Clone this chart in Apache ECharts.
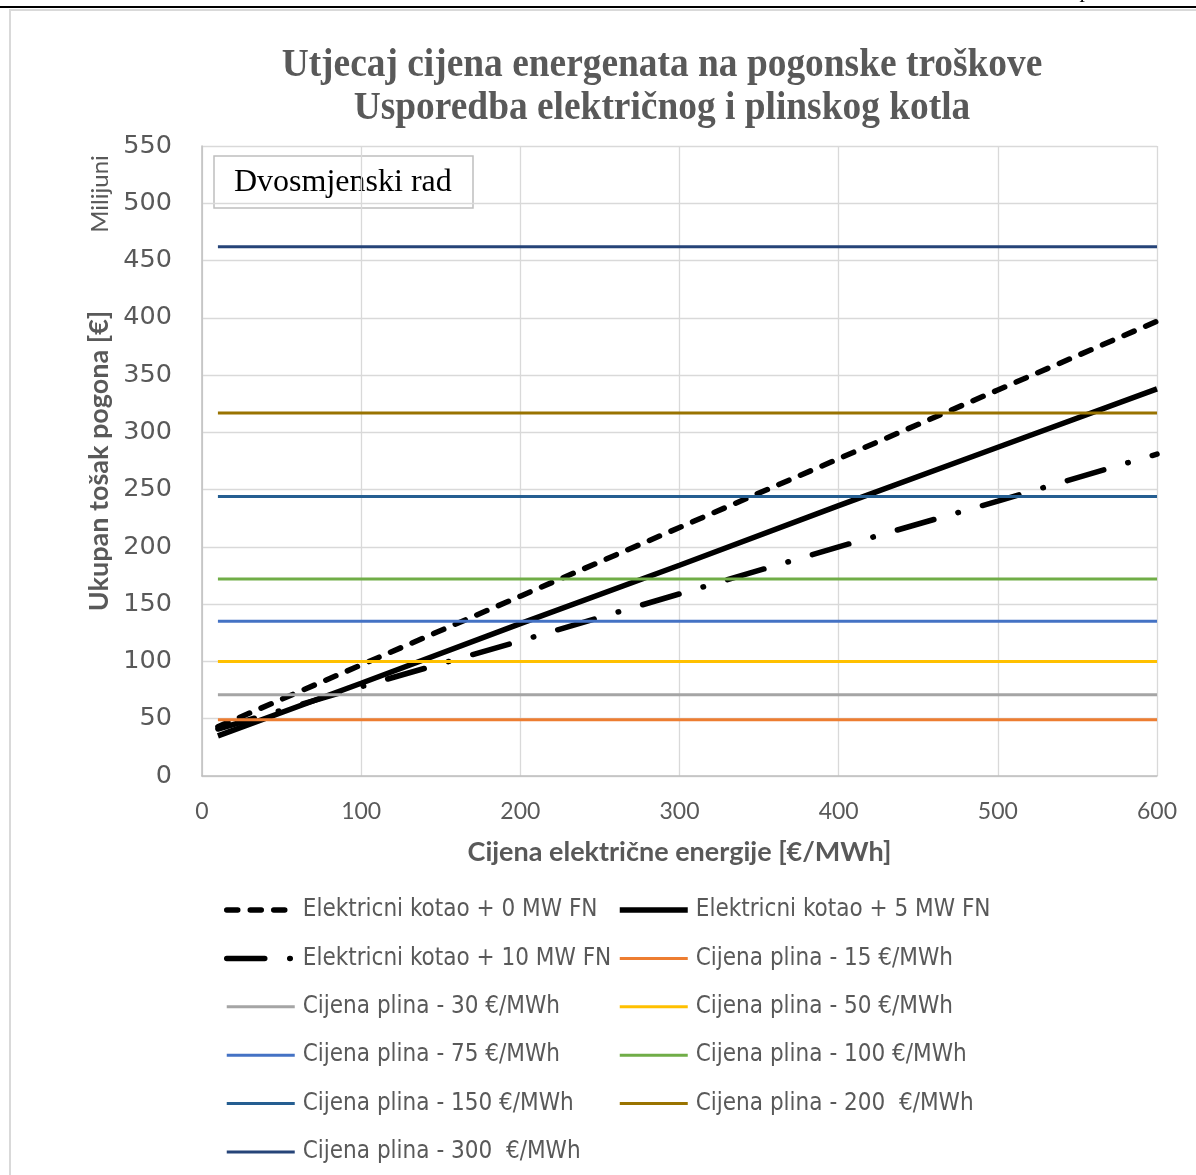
<!DOCTYPE html>
<html>
<head>
<meta charset="utf-8">
<script src="https://cdn.jsdelivr.net/npm/echarts@6/dist/echarts.min.js"></script>
<style>
  html, body { margin: 0; padding: 0; background: #fff; }
  #chart { width: 1196px; height: 1175px; }
</style>
</head>
<body>
<div id="chart"></div>
<script>
// Electricity price points (€/MWh) at which the boiler costs are given
const elecPrice = [10, 100, 200, 300, 400, 500, 600];

// Total operating cost of the electric boiler (millions €)
const boiler0MW  = [43, 97, 157, 217, 277, 337, 397];
const boiler5MW  = [35, 81, 133, 184, 236, 287, 338];
const boiler10MW = [41, 78, 118, 159, 200, 240, 281];

const boilerNames = [
  'Elektricni kotao + 0 MW FN',
  'Elektricni kotao + 5 MW FN',
  'Elektricni kotao + 10 MW FN'
];

// Gas boiler: total cost per gas price (independent of electricity price)
const gasNames = [
  'Cijena plina - 15 €/MWh',
  'Cijena plina - 30 €/MWh',
  'Cijena plina - 50 €/MWh',
  'Cijena plina - 75 €/MWh',
  'Cijena plina - 100 €/MWh',
  'Cijena plina - 150 €/MWh',
  'Cijena plina - 200  €/MWh',
  'Cijena plina - 300  €/MWh'
];
const gasCost = [49, 71, 100, 135, 172, 244, 317, 462];
const gasColors = ['#ED7D31', '#A5A5A5', '#FFC000', '#4472C4', '#70AD47', '#255E91', '#997300', '#264478'];

const titleLines = ['Utjecaj cijena energenata na pogonske troškove', 'Usporedba električnog i plinskog kotla'];

const GREY_TEXT = '#595959';
const LEGEND_FONT = '"DejaVu Sans Condensed", Lato, sans-serif';

function boilerSeries(name, values, dash, cap) {
  return {
    name: name,
    type: 'line',
    data: elecPrice.map((x, i) => [x, values[i]]),
    symbol: 'none',
    lineStyle: { color: '#000', width: 5.5, type: dash, cap: cap },
    itemStyle: { color: '#000' },
    z: 2
  };
}

const series = [
  boilerSeries(boilerNames[0], boiler0MW, [11, 12.5], 'round'),
  boilerSeries(boilerNames[1], boiler5MW, 'solid', 'butt'),
  boilerSeries(boilerNames[2], boiler10MW, [38, 25, 0.5, 25], 'round')
];
gasNames.forEach((name, i) => {
  series.push({
    name: name,
    type: 'line',
    data: [[elecPrice[0], gasCost[i]], [elecPrice[elecPrice.length - 1], gasCost[i]]],
    symbol: 'none',
    lineStyle: { color: gasColors[i], width: 3 },
    itemStyle: { color: gasColors[i] },
    z: 3
  });
});

const legendText = {
  color: GREY_TEXT,
  fontFamily: LEGEND_FONT,
  fontSize: 24,
  lineHeight: 28,
  padding: [0, 0, 0, 3]
};

function legendColumn(left, names) {
  return {
    orient: 'vertical', left: left, top: 896, padding: 0,
    itemWidth: 68, itemHeight: 14, itemGap: 20.4,
    data: names,
    itemStyle: { opacity: 0 },
    lineStyle: { width: 'inherit' },
    textStyle: legendText
  };
}

const chart = echarts.init(document.getElementById('chart'));
chart.setOption({
  animation: false,
  backgroundColor: '#fff',
  grid: { left: 202, right: 39, top: 146, bottom: 399, containLabel: false },
  xAxis: {
    type: 'value',
    min: 0, max: 600, interval: 100,
    name: 'Cijena električne energije [€/MWh]',
    nameLocation: 'middle',
    nameGap: 63,
    nameTextStyle: { color: GREY_TEXT, fontFamily: 'Lato', fontWeight: 'bold', fontSize: 27 },
    axisLine: { show: true, lineStyle: { color: '#BFBFBF', width: 1.5 } },
    axisTick: { show: false },
    axisLabel: { color: GREY_TEXT, fontFamily: 'Lato', fontSize: 23, margin: 24 },
    splitLine: { show: true, lineStyle: { color: '#D9D9D9', width: 1.3 } }
  },
  yAxis: {
    type: 'value',
    min: 0, max: 550, interval: 50,
    name: 'Ukupan tošak pogona [€]',
    nameLocation: 'middle',
    nameGap: 87,
    nameRotate: 90,
    nameTextStyle: { color: GREY_TEXT, fontFamily: 'Lato', fontWeight: 'bold', fontSize: 27 },
    axisLine: { show: true, lineStyle: { color: '#BFBFBF', width: 1.5 } },
    axisTick: { show: false },
    axisLabel: { color: GREY_TEXT, fontFamily: '"DejaVu Sans"', fontSize: 25.5, margin: 30 },
    splitLine: { show: true, lineStyle: { color: '#D9D9D9', width: 1.3 } }
  },
  legend: [
    legendColumn(224, [boilerNames[0], boilerNames[2], gasNames[1], gasNames[3], gasNames[5], gasNames[7]]),
    legendColumn(617, [boilerNames[1], gasNames[0], gasNames[2], gasNames[4], gasNames[6]])
  ],
  graphic: [
    { type: 'line', silent: true, z: 10,
      shape: { x1: 0, y1: 7, x2: 1196, y2: 7 },
      style: { stroke: '#000', lineWidth: 2 } },
    { type: 'rect', silent: true, z: 0,
      shape: { x: 10, y: 10, width: 1300, height: 1300 },
      style: { fill: null, stroke: '#D9D9D9', lineWidth: 2 } },
    { type: 'text', silent: true, left: 1081, top: -20,
      style: { text: 'p', font: 'italic 22px "Liberation Serif"', fill: '#000' } },
    { type: 'text', silent: true, x: 662, y: 66, scaleX: 0.935,
      style: { text: titleLines[0], font: 'bold 40px "Liberation Serif"', fill: GREY_TEXT,
               align: 'center', verticalAlign: 'middle' } },
    { type: 'text', silent: true, x: 662, y: 109, scaleX: 0.935,
      style: { text: titleLines[1], font: 'bold 40px "Liberation Serif"', fill: GREY_TEXT,
               align: 'center', verticalAlign: 'middle' } },
    { type: 'text', silent: true, x: 100, y: 194, rotation: Math.PI / 2,
      style: { text: 'Milijuni', font: '24px Lato', fill: GREY_TEXT,
               align: 'center', verticalAlign: 'middle' } },
    { type: 'group', z: 20, children: [
      { type: 'rect', shape: { x: 214, y: 156, width: 259, height: 52 },
        style: { fill: '#fff', stroke: '#BFBFBF', lineWidth: 1.5 } },
      { type: 'text', x: 234, y: 183,
        style: { text: 'Dvosmjenski rad', font: '32px "Liberation Serif"', fill: '#000',
                 verticalAlign: 'middle' } }
    ] }
  ],
  series: series
});
</script>
</body>
</html>
